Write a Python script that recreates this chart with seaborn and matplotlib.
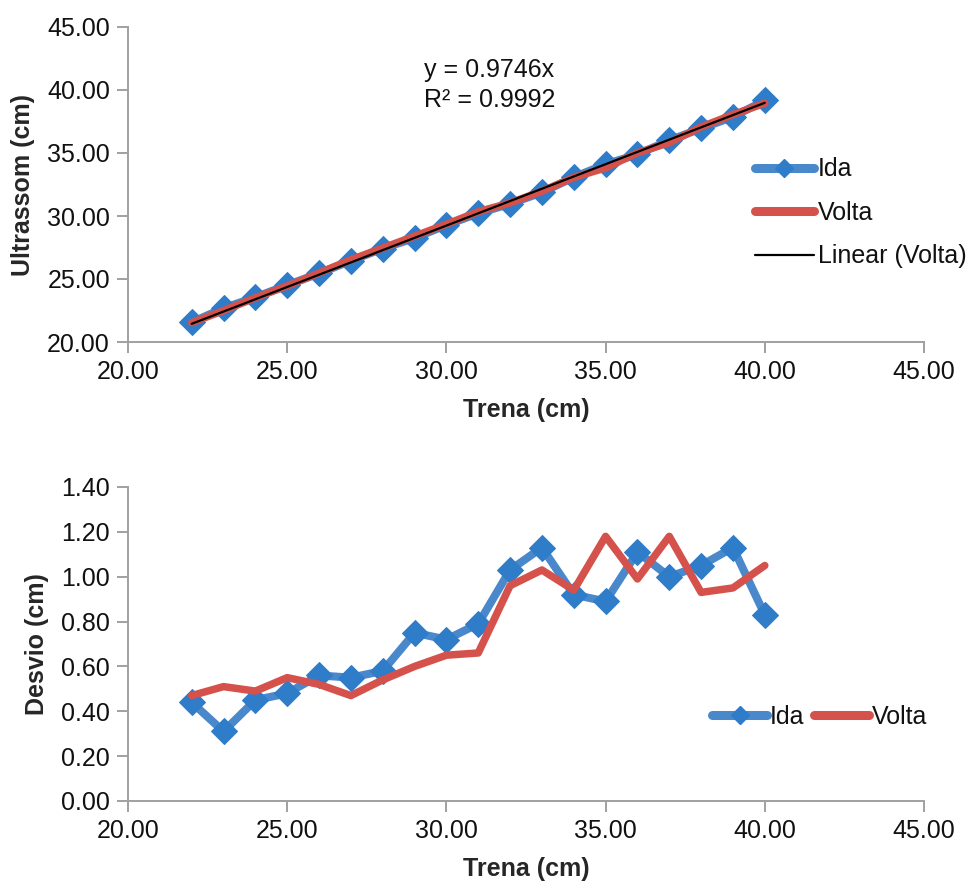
import numpy as np
import pandas as pd
import seaborn as sns
import matplotlib.pyplot as plt
from matplotlib.lines import Line2D

# Data
trena = [22, 23, 24, 25, 26, 27, 28, 29, 30, 31, 32, 33, 34, 35, 36, 37, 38, 39, 40]
ultra_ida = [21.56, 22.69, 23.55, 24.52, 25.44, 26.45, 27.42, 28.25, 29.28, 30.21,
             30.97, 31.87, 33.08, 34.11, 34.89, 36.00, 36.95, 37.87, 39.17]
ultra_volta = [21.53, 22.49, 23.51, 24.45, 25.48, 26.53, 27.46, 28.40, 29.35, 30.34,
               31.04, 31.97, 33.06, 33.82, 35.01, 35.82, 37.07, 38.05, 38.95]
desvio_ida = [0.44, 0.31, 0.45, 0.48, 0.56, 0.55, 0.58, 0.75, 0.72, 0.79,
              1.03, 1.13, 0.92, 0.89, 1.11, 1.00, 1.05, 1.13, 0.83]
desvio_volta = [0.47, 0.51, 0.49, 0.55, 0.52, 0.47, 0.54, 0.60, 0.65, 0.66,
                0.96, 1.03, 0.94, 1.18, 0.99, 1.18, 0.93, 0.95, 1.05]

df = pd.DataFrame({'trena': trena, 'ultra_ida': ultra_ida, 'ultra_volta': ultra_volta,
                   'desvio_ida': desvio_ida, 'desvio_volta': desvio_volta})

BLUE = '#4A88CC'
BLUE_MK = '#2F7CC8'
RED = '#D4514C'
GRID = '#A0A0A0'
FS = 18

sns.set_theme(style="white")
plt.rcParams['font.family'] = ['Liberation Sans', 'DejaVu Sans']
plt.rcParams['text.color'] = '#111111'

fig = plt.figure(figsize=(9.76, 8.82), dpi=100)
ax1 = fig.add_axes([128 / 976, 1 - 342 / 882, 796 / 976, 315 / 882])
ax2 = fig.add_axes([128 / 976, 1 - 801 / 882, 796 / 976, 314 / 882])

line_kw = dict(linewidth=5.8, color=BLUE, marker='D', markersize=13,
               markerfacecolor=BLUE_MK, markeredgecolor=BLUE_MK,
               solid_capstyle='round', solid_joinstyle='round')
red_kw = dict(linewidth=5.4, color=RED, solid_capstyle='round', solid_joinstyle='round')

# Top chart
sns.lineplot(data=df, x='trena', y='ultra_ida', ax=ax1, **line_kw)
sns.lineplot(data=df, x='trena', y='ultra_volta', ax=ax1, **red_kw)
x = np.array(trena, dtype=float)
slope = np.sum(x * np.array(ultra_volta)) / np.sum(x * x)
ax1.plot(x, slope * x, color='black', linewidth=1.6)
fig.text(424 / 976, 1 - 70 / 882, "y = 0.9746x", fontsize=FS, va='center', ha='left')
fig.text(424 / 976, 1 - 100 / 882, "R² = 0.9992", fontsize=FS, va='center', ha='left')

ax1.set_xlim(20, 45)
ax1.set_ylim(20, 45)
ax1.set_xticks(np.arange(20, 46, 5))
ax1.set_yticks(np.arange(20, 46, 5))
ax1.set_xlabel("Trena (cm)", fontsize=FS, fontweight='bold', labelpad=10)
ax1.set_ylabel("Ultrassom (cm)", fontsize=FS, fontweight='bold', labelpad=9)

h_ida = Line2D([], [], linewidth=6.5, color=BLUE, marker='D', markersize=9,
               markerfacecolor=BLUE_MK, markeredgecolor=BLUE_MK, solid_capstyle='round')
h_volta = Line2D([], [], linewidth=6.5, color=RED, solid_capstyle='round')
h_lin = Line2D([], [], color='black', linewidth=1.6)
fig.legend([h_ida, h_volta, h_lin], ['Ida', 'Volta', 'Linear (Volta)'],
           loc='center left', bbox_to_anchor=(755 / 976, 1 - 213 / 882),
           frameon=False, fontsize=FS, handlelength=2.35, handletextpad=0.15,
           labelspacing=0.78, borderaxespad=0, borderpad=0)

# Bottom chart
sns.lineplot(data=df, x='trena', y='desvio_ida', ax=ax2, **line_kw)
sns.lineplot(data=df, x='trena', y='desvio_volta', ax=ax2, **red_kw)
ax2.set_xlim(20, 45)
ax2.set_ylim(0, 1.4)
ax2.set_xticks(np.arange(20, 46, 5))
ax2.set_yticks(np.arange(0, 1.41, 0.2))
ax2.set_xlabel("Trena (cm)", fontsize=FS, fontweight='bold', labelpad=10)
ax2.set_ylabel("Desvio (cm)", fontsize=FS, fontweight='bold', labelpad=9)
fig.legend([h_ida, h_volta], ['Ida', 'Volta'], loc='center left',
           bbox_to_anchor=(712 / 976, 1 - 717 / 882), ncol=2, frameon=False,
           fontsize=FS, handlelength=2.2, handletextpad=0.1, columnspacing=0.4,
           borderaxespad=0, borderpad=0)

for ax in (ax1, ax2):
    ax.xaxis.set_major_formatter(plt.FuncFormatter(lambda v, p: f"{v:.2f}"))
    ax.yaxis.set_major_formatter(plt.FuncFormatter(lambda v, p: f"{v:.2f}"))
    for s in ('top', 'right'):
        ax.spines[s].set_visible(False)
    for s in ('left', 'bottom'):
        ax.spines[s].set_color(GRID)
        ax.spines[s].set_linewidth(1.4)
    ax.tick_params(axis='both', which='major', direction='out', length=8, width=1.4,
                   color=GRID, labelsize=FS, labelcolor='#111111', pad=5,
                   left=True, bottom=True)
    ax.grid(False)
    ax.patch.set_alpha(0)

fig.savefig("out.png", dpi=100)
